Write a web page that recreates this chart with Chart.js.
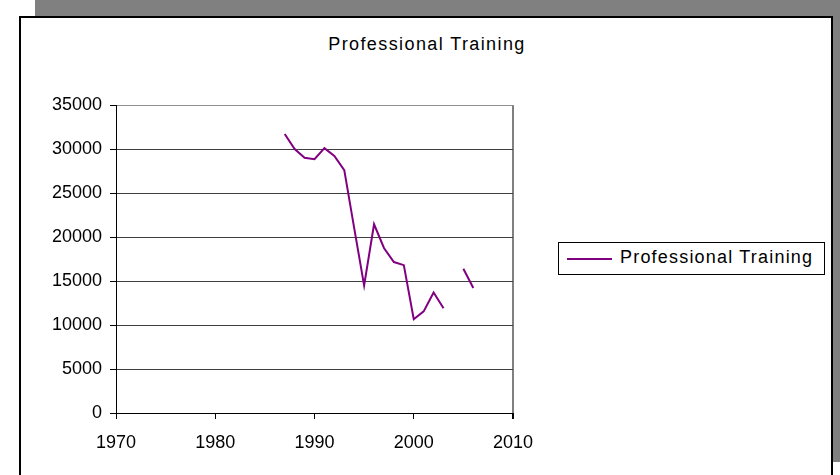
<!DOCTYPE html>
<html>
<head>
<meta charset="utf-8">
<title>Professional Training</title>
<script src="https://cdn.jsdelivr.net/npm/chart.js@4.4.0/dist/chart.umd.min.js"></script>
<style>
  html, body { margin: 0; padding: 0; background: #fff; }
  body { width: 840px; height: 475px; position: relative; overflow: hidden;
         font-family: "Liberation Sans", Arial, sans-serif; }
  #shadow { position: absolute; left: 35px; top: 0; width: 805px; height: 462px; background: #808080; }
  #frame { position: absolute; left: 19px; top: 16px; width: 814px; height: 520px;
           background: #fff; border: 2px solid #000; box-sizing: border-box; }
  #chartTitle { position: absolute; left: 227px; width: 400px; top: 34px; line-height: 20px;
                font-size: 18px; letter-spacing: 1.4px; text-align: center; color: #000; }
  #legend { position: absolute; left: 558px; top: 242px; width: 267px; height: 33px;
            border: 1px solid #000; box-sizing: border-box; background: #fff; }
  #legend .swatch { position: absolute; left: 8px; top: 15px; width: 45px; height: 2px; background: #800080; }
  #legend .label { position: absolute; left: 61px; top: 4px; line-height: 20px; font-size: 18px;
                   letter-spacing: 1.2px; color: #000; white-space: nowrap; }
  #wrap { position: absolute; left: 0; top: 0; width: 840px; height: 475px; }
</style>
</head>
<body>
<div id="shadow"></div>
<div id="frame"></div>
<div id="chartTitle">Professional Training</div>
<div id="wrap"><canvas id="chart"></canvas></div>
<div id="legend"><span class="swatch"></span><span class="label">Professional Training</span></div>

<script>
// dados (2004 sem valor)
const seriesName = 'Professional Training';
const years = [1987, 1988, 1989, 1990, 1991, 1992, 1993, 1994, 1995, 1996,
               1997, 1998, 1999, 2000, 2001, 2002, 2003, 2004, 2005, 2006];
const values = [31700, 30000, 29000, 28850, 30100, 29200, 27600, 21000, 14500, 21450,
                18750, 17150, 16800, 10650, 11550, 13700, 11900, null, 16400, 14200];
const xTicks = [1970, 1980, 1990, 2000, 2010];
const yTicks = [0, 5000, 10000, 15000, 20000, 25000, 30000, 35000];

const points = years.map((y, i) => ({ x: y, y: values[i] }));
const tickFont = { family: '"Liberation Sans", Arial, sans-serif', size: 18 };

new Chart(document.getElementById('chart'), {
  type: 'line',
  data: {
    datasets: [{
      label: seriesName,
      data: points,
      borderColor: '#800080',
      borderWidth: 2,
      pointRadius: 0,
      tension: 0,
      spanGaps: false
    }]
  },
  options: {
    responsive: true,
    maintainAspectRatio: false,
    animation: false,
    layout: { padding: { left: 0, right: 327, top: 105, bottom: 0 } },
    plugins: { legend: { display: false }, title: { display: false }, tooltip: { enabled: false } },
    scales: {
      x: {
        type: 'linear',
        min: xTicks[0],
        max: xTicks[xTicks.length - 1],
        afterBuildTicks: s => { s.ticks = xTicks.map(v => ({ value: v })); },
        afterFit: s => { s.height = 62; },
        ticks: { color: '#000', font: tickFont, padding: 13, maxRotation: 0, callback: v => String(v) },
        grid: {
          // só a borda direita da área do gráfico em 2010
          color: c => (c.tick && c.tick.value === 2010) ? '#808080' : 'rgba(0,0,0,0)',
          lineWidth: c => (c.tick && c.tick.value === 2010) ? 2 : 1,
          tickColor: '#000',
          tickLength: 6
        },
        border: { color: '#000', width: 1 }
      },
      y: {
        min: 0,
        max: 35000,
        afterBuildTicks: s => { s.ticks = yTicks.map(v => ({ value: v })); },
        afterFit: s => { s.width = 116; },
        ticks: { color: '#000', font: tickFont, padding: 8, callback: v => String(v) },
        grid: {
          color: c => (c.tick && c.tick.value === 35000) ? '#909090' : '#404040',
          tickColor: '#000',
          tickLength: 6
        },
        border: { color: '#000', width: 1 }
      }
    }
  }
});
</script>
</body>
</html>
